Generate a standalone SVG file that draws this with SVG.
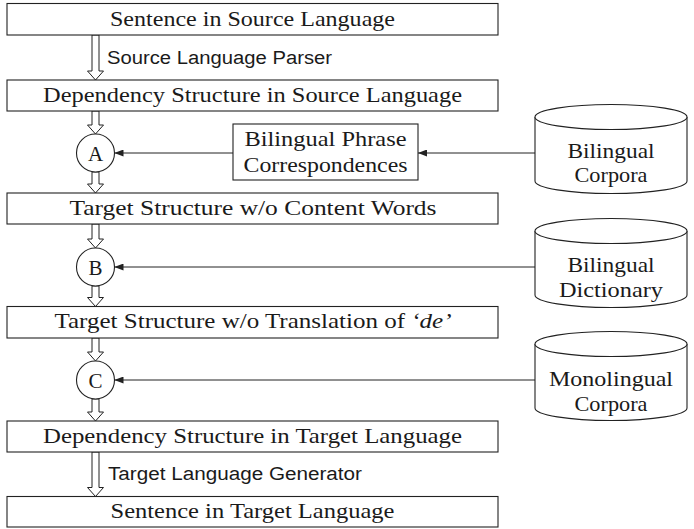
<svg xmlns="http://www.w3.org/2000/svg" width="694" height="529" viewBox="0 0 694 529">
<style>
.box{fill:#fff;stroke:#222;stroke-width:1.1}
.t{font-family:"Liberation Serif",serif;font-size:21px;fill:#1a1a1a;text-anchor:middle}
.s{font-family:"Liberation Sans","DejaVu Sans",sans-serif;font-size:18px;fill:#1a1a1a}
.dbl{fill:#fff;stroke:#222;stroke-width:1}
.conn{fill:none;stroke:#222;stroke-width:1;marker-end:url(#ah)}
.cyl{fill:#fff;stroke:#222;stroke-width:1.1}
</style>
<defs>
<marker id="ah" viewBox="0 0 9 7" refX="9" refY="3.5" markerWidth="9" markerHeight="7" orient="auto" markerUnits="userSpaceOnUse">
<path d="M0,0 L9,3.5 L0,7 z" fill="#222"/>
</marker>
</defs>

<g id="connectors">
<path class="dbl" d="M92,35 V71 H87.5 L95.5,80 L103.5,71 H99 V35 Z"/>
<path class="dbl" d="M92,111 V125 H87.5 L95.5,134 L103.5,125 H99 V111 Z"/>
<path class="dbl" d="M92,172 V184 H87.5 L95.5,193 L103.5,184 H99 V172 Z"/>
<path class="dbl" d="M92,224 V239 H87.5 L95.5,248 L103.5,239 H99 V224 Z"/>
<path class="dbl" d="M92,286 V297.5 H87.5 L95.5,306.5 L103.5,297.5 H99 V286 Z"/>
<path class="dbl" d="M92,338 V352 H87.5 L95.5,361 L103.5,352 H99 V338 Z"/>
<path class="dbl" d="M92,399 V412 H87.5 L95.5,421 L103.5,412 H99 V399 Z"/>
<path class="dbl" d="M92,452 V487.5 H87.5 L95.5,496.5 L103.5,487.5 H99 V452 Z"/>
<path class="conn" d="M233,153 H114.5"/>
<path class="conn" d="M535,153 H418"/>
<path class="conn" d="M535,267 H114.5"/>
<path class="conn" d="M535,380 H114.5"/>
<text class="s" x="107" y="64" textLength="225" lengthAdjust="spacingAndGlyphs">Source Language Parser</text>
<text class="s" x="108" y="480" textLength="254" lengthAdjust="spacingAndGlyphs">Target Language Generator</text>
</g>

<g id="sentence-source">
<rect class="box" x="7" y="3.5" width="491" height="31.5"/>
<text class="t" x="252.5" y="25.5" textLength="285" lengthAdjust="spacingAndGlyphs">Sentence in Source Language</text>
</g>
<g id="dep-source">
<rect class="box" x="7" y="80" width="491" height="31"/>
<text class="t" x="252.5" y="101.5" textLength="419" lengthAdjust="spacingAndGlyphs">Dependency Structure in Source Language</text>
</g>
<g id="node-a">
<circle class="box" cx="95.5" cy="153" r="19"/>
<text class="t" x="95.5" y="160.5">A</text>
</g>
<g id="phrase">
<rect class="box" x="233" y="124" width="185" height="56"/>
<text class="t" x="325.5" y="146" textLength="162" lengthAdjust="spacingAndGlyphs">Bilingual Phrase</text>
<text class="t" x="325.5" y="172" textLength="164" lengthAdjust="spacingAndGlyphs">Correspondences</text>
</g>
<g id="bilingual-corpora">
<path class="cyl" d="M535,117 V181 A76,12.5 0 0 0 687,181 V117"/>
<ellipse class="cyl" cx="611" cy="117" rx="76" ry="12.5"/>
<text class="t" x="611" y="158" textLength="87" lengthAdjust="spacingAndGlyphs">Bilingual</text>
<text class="t" x="611" y="182" textLength="73" lengthAdjust="spacingAndGlyphs">Corpora</text>
</g>
<g id="target-no-content">
<rect class="box" x="7" y="193" width="491" height="31"/>
<text class="t" x="253" y="214.5" textLength="367" lengthAdjust="spacingAndGlyphs">Target Structure w/o Content Words</text>
</g>
<g id="node-b">
<circle class="box" cx="95.5" cy="267" r="19"/>
<text class="t" x="95.5" y="274.5">B</text>
</g>
<g id="bilingual-dictionary">
<path class="cyl" d="M535,231 V295 A76,12.5 0 0 0 687,295 V231"/>
<ellipse class="cyl" cx="611" cy="231" rx="76" ry="12.5"/>
<text class="t" x="611" y="272" textLength="87" lengthAdjust="spacingAndGlyphs">Bilingual</text>
<text class="t" x="611" y="297" textLength="104" lengthAdjust="spacingAndGlyphs">Dictionary</text>
</g>
<g id="target-no-de">
<rect class="box" x="7" y="306.5" width="491" height="31.5"/>
<text class="t" x="253" y="328" textLength="397" lengthAdjust="spacingAndGlyphs">Target Structure w/o Translation of <tspan font-style="italic">‘de’</tspan></text>
</g>
<g id="node-c">
<circle class="box" cx="95.5" cy="380" r="19"/>
<text class="t" x="95.5" y="387.5">C</text>
</g>
<g id="monolingual-corpora">
<path class="cyl" d="M535,344 V408 A76,12.5 0 0 0 687,408 V344"/>
<ellipse class="cyl" cx="611" cy="344" rx="76" ry="12.5"/>
<text class="t" x="611" y="386" textLength="124" lengthAdjust="spacingAndGlyphs">Monolingual</text>
<text class="t" x="611" y="411" textLength="73" lengthAdjust="spacingAndGlyphs">Corpora</text>
</g>
<g id="dep-target">
<rect class="box" x="7" y="421" width="491" height="31"/>
<text class="t" x="252.5" y="442.5" textLength="419" lengthAdjust="spacingAndGlyphs">Dependency Structure in Target Language</text>
</g>
<g id="sentence-target">
<rect class="box" x="7" y="496.5" width="491" height="30.5"/>
<text class="t" x="252.5" y="518" textLength="284" lengthAdjust="spacingAndGlyphs">Sentence in Target Language</text>
</g>
</svg>
